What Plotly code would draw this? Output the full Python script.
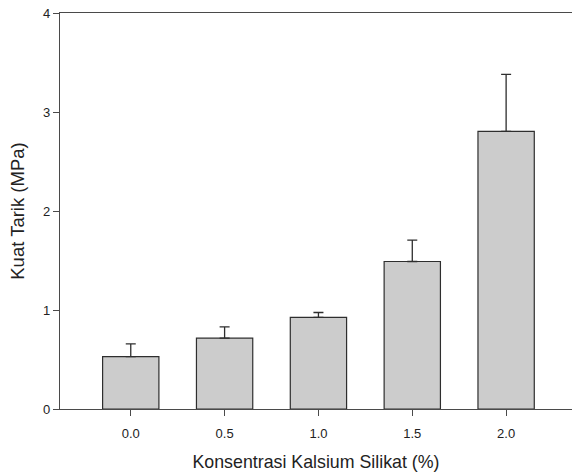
import plotly.graph_objects as go

concentration = [0.0, 0.5, 1.0, 1.5, 2.0]
tensile_strength = [0.53, 0.715, 0.925, 1.49, 2.805]
error_up = [0.127, 0.115, 0.05, 0.215, 0.575]
x_tick_labels = ["0.0", "0.5", "1.0", "1.5", "2.0"]
y_tick_values = [0, 1, 2, 3, 4]

axis_color = "#4a4a4a"
font_family = "Liberation Sans, Arial, sans-serif"

fig = go.Figure()
fig.add_trace(go.Bar(
    x=concentration,
    y=tensile_strength,
    width=0.3,
    marker=dict(color="#cccccc", line=dict(color="#2e2e2e", width=1.2)),
    error_y=dict(type="data", symmetric=False, array=error_up,
                 arrayminus=[0] * len(error_up),
                 color="#2e2e2e", thickness=1.3, width=5),
))

fig.update_layout(
    width=572, height=476,
    margin=dict(l=60, r=0, t=13, b=67),
    paper_bgcolor="white", plot_bgcolor="white",
    showlegend=False,
    font=dict(family=font_family, color="#222222"),
    xaxis=dict(
        range=[-0.377, 2.351],
        tickmode="array", tickvals=concentration, ticktext=x_tick_labels,
        ticks="outside", ticklen=6, tickcolor=axis_color, tickwidth=1,
        ticklabelstandoff=6,
        showline=True, linecolor=axis_color, linewidth=1.2, mirror=True,
        showgrid=False, zeroline=False,
        tickfont=dict(size=13, color="#222222"),
        title=dict(text="Konsentrasi Kalsium Silikat (%)",
                   font=dict(size=17.8, color="#222222"), standoff=15),
    ),
    yaxis=dict(
        range=[0, 4],
        tickmode="array", tickvals=y_tick_values,
        ticks="outside", ticklen=6, tickcolor=axis_color, tickwidth=1,
        showline=True, linecolor=axis_color, linewidth=1.2, mirror=False,
        showgrid=False, zeroline=False,
        tickfont=dict(size=13, color="#222222"),
        title=dict(text="Kuat Tarik (MPa)",
                   font=dict(size=18.5, color="#222222"), standoff=13),
    ),
)

fig.write_html("out.html")
